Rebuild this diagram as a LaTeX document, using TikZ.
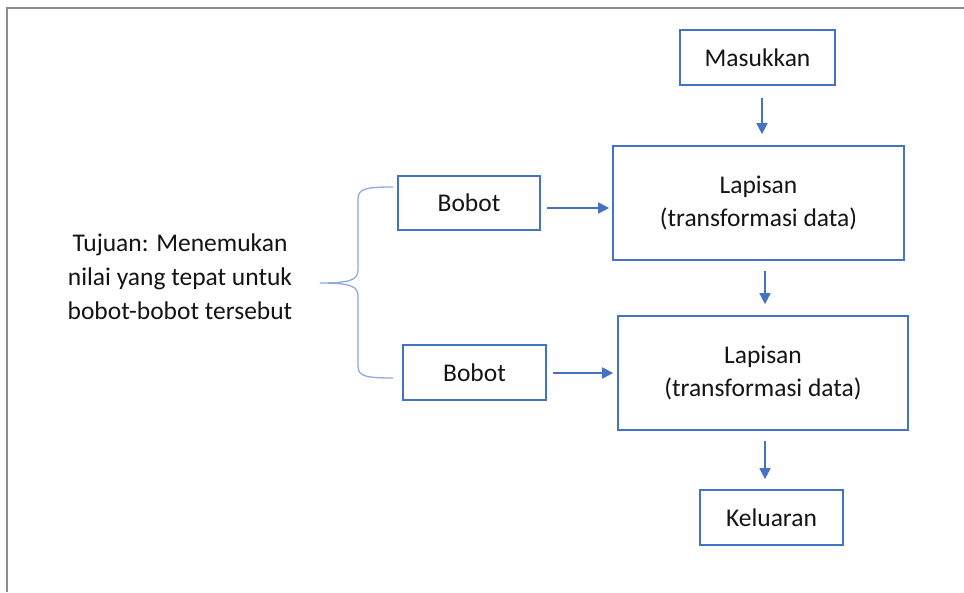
\documentclass[tikz,border=0pt]{standalone}
\usepackage{fontspec}
\setmainfont{Carlito}
\usetikzlibrary{arrows.meta}
\definecolor{boxblue}{HTML}{4472C4}
\definecolor{braceblue}{HTML}{8FAADC}
\definecolor{framegray}{HTML}{8C8C8C}
\tikzset{
  box/.style={draw=boxblue, line width=1.7pt, inner sep=0pt, align=center, text=black!92,
    font=\fontsize{25.5}{33}\selectfont},
  arr/.style={draw=boxblue, line width=1.7pt, -{Triangle[length=11pt,width=11pt]}},
  lbl/.style={align=center, text=black!92, font=\fontsize{25.5}{34}\selectfont, inner sep=0pt}
}
\begin{document}
\begin{tikzpicture}[x=1pt,y=-1pt]
\useasboundingbox (0,0) rectangle (964,592);
\draw[framegray, line width=2pt] (7,592) -- (7,8) -- (964,8);
\node[box, minimum width=155pt, minimum height=55pt] (m) at (757.5,57.5) {Masukkan};
\node[box, minimum width=291pt, minimum height=114pt] (l1) at (758.5,203) {Lapisan\\(transformasi data)};
\node[box, minimum width=142pt, minimum height=54pt] (b1) at (469,203) {Bobot};
\node[box, minimum width=290pt, minimum height=114pt] (l2) at (763,373) {Lapisan\\(transformasi data)};
\node[box, minimum width=143pt, minimum height=55pt] (b2) at (474.5,372.5) {Bobot};
\node[box, minimum width=143pt, minimum height=55pt] (k) at (771.5,517.5) {Keluaran};
\node[lbl] (t) at (180,277) {Tujuan: Menemukan\\nilai yang tepat untuk\\bobot-bobot tersebut};
\coordinate (bt) at (393,187);
\coordinate (bb) at (393,378);
\coordinate (tip) at (320,283);
\draw[arr, shorten <=12pt, shorten >=11pt] ([xshift=4.5pt]m.south) -- ([xshift=3.5pt]l1.north);
\draw[arr, shorten <=6pt, shorten >=3pt] ([yshift=-5pt]b1.east) -- ([yshift=-5pt]b1.east -| l1.west);
\draw[arr, shorten <=10pt, shorten >=11pt] ([xshift=6.5pt]l1.south) -- ([xshift=2pt]l2.north);
\draw[arr, shorten <=6pt, shorten >=4pt] ([yshift=-0.5pt]b2.east) -- ([yshift=-0.5pt]b2.east -| l2.west);
\draw[arr, shorten <=10pt, shorten >=10pt] ([xshift=2pt]l2.south) -- ([xshift=-6.5pt]k.north);
\draw[braceblue, line width=1.3pt] (bt) .. controls (365,187) and (358,189) .. (358,199)
  -- (358,270) .. controls (358,280) and (350,283) .. (tip)
  .. controls (350,283) and (358,286) .. (358,296)
  -- (358,366) .. controls (358,376) and (365,378) .. (bb);
\end{tikzpicture}
\end{document}
